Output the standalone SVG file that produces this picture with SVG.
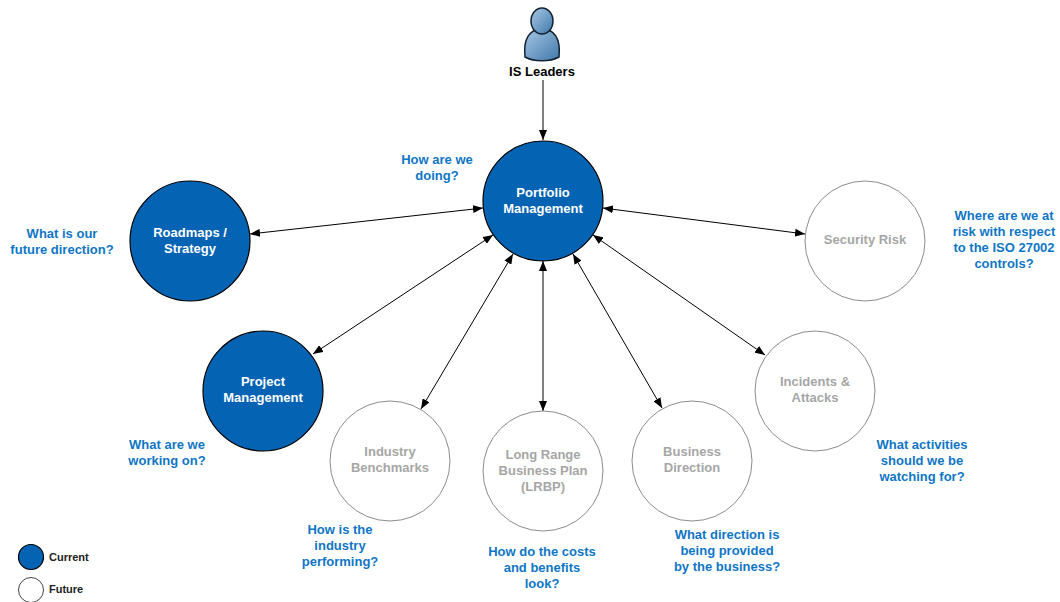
<svg xmlns="http://www.w3.org/2000/svg" width="1060" height="602" viewBox="0 0 1060 602">
<defs>
<marker id="a" viewBox="0 0 10 8" refX="10" refY="4" markerWidth="10" markerHeight="8" orient="auto-start-reverse" markerUnits="userSpaceOnUse"><path d="M0 0L10 4L0 8Z" fill="#000"/></marker>
<linearGradient id="b" x1="0" y1="0" x2="1" y2="1"><stop offset="0" stop-color="#a9c8e4"/><stop offset="1" stop-color="#3f78ab"/></linearGradient>
</defs>
<style>
text{font-family:"Liberation Sans",Arial,sans-serif;font-weight:700;font-size:13px;text-anchor:middle}
.cur{fill:#0563b4;stroke:#000;stroke-width:1.2}
.fut{fill:#fff;stroke:#8c8c8c;stroke-width:1}
.w{fill:#fff}.g{fill:#a6a6a6}.q{fill:#0f76c6}
.c{stroke:#000;stroke-width:1;fill:none;marker-end:url(#a)}
.d{marker-start:url(#a)}
.k{fill:#222;font-size:11px;text-anchor:start}
</style>
<rect width="1060" height="602" fill="#fff"/>
<g id="connectors">
<line class="c" x1="543" y1="80" x2="543" y2="140"/>
<line class="c d" x1="250" y1="234" x2="483" y2="208"/>
<line class="c d" x1="313" y1="354" x2="493" y2="235"/>
<line class="c d" x1="421" y1="409" x2="513" y2="254"/>
<line class="c d" x1="543" y1="411" x2="543" y2="261"/>
<line class="c d" x1="662" y1="408" x2="573" y2="254"/>
<line class="c d" x1="765" y1="355" x2="593" y2="235"/>
<line class="c d" x1="805" y1="234" x2="603" y2="208"/>
</g>
<g id="is-leaders">
<path d="M525 57C523 38 530 29 542 29C554 29 561 38 559 57C550 62 534 62 525 57Z" fill="url(#b)" stroke="#123" stroke-width="1.5"/>
<ellipse cx="542" cy="21" rx="11" ry="13" fill="url(#b)" stroke="#123" stroke-width="1.5"/>
<text x="542" y="76">IS Leaders</text>
</g>
<g id="portfolio"><circle class="cur" cx="543" cy="201" r="60"/><text class="w" x="543" y="197">Portfolio</text><text class="w" x="543" y="213">Management</text></g>
<g id="roadmaps"><circle class="cur" cx="190" cy="241" r="60"/><text class="w" x="190" y="237">Roadmaps /</text><text class="w" x="190" y="253">Strategy</text></g>
<g id="project"><circle class="cur" cx="263" cy="391" r="60"/><text class="w" x="263" y="386">Project</text><text class="w" x="263" y="402">Management</text></g>
<g id="security"><circle class="fut" cx="865" cy="241" r="60"/><text class="g" x="865" y="244">Security Risk</text></g>
<g id="incidents"><circle class="fut" cx="815" cy="391" r="60"/><text class="g" x="815" y="386">Incidents &amp;</text><text class="g" x="815" y="402">Attacks</text></g>
<g id="industry"><circle class="fut" cx="390" cy="461" r="60"/><text class="g" x="390" y="456">Industry</text><text class="g" x="390" y="472">Benchmarks</text></g>
<g id="lrbp"><circle class="fut" cx="543" cy="471" r="60"/><text class="g" x="543" y="459">Long Range</text><text class="g" x="543" y="475">Business Plan</text><text class="g" x="543" y="491">(LRBP)</text></g>
<g id="business"><circle class="fut" cx="692" cy="461" r="60"/><text class="g" x="692" y="456">Business</text><text class="g" x="692" y="472">Direction</text></g>
<g id="questions">
<text class="q" x="437" y="164">How are we</text><text class="q" x="437" y="180">doing?</text>
<text class="q" x="62" y="238">What is our</text><text class="q" x="62" y="254">future direction?</text>
<text class="q" x="1004" y="220">Where are we at</text><text class="q" x="1004" y="236">risk with respect</text><text class="q" x="1004" y="252">to the ISO 27002</text><text class="q" x="1004" y="268">controls?</text>
<text class="q" x="167" y="449">What are we</text><text class="q" x="167" y="465">working on?</text>
<text class="q" x="922" y="449">What activities</text><text class="q" x="922" y="465">should we be</text><text class="q" x="922" y="481">watching for?</text>
<text class="q" x="340" y="534">How is the</text><text class="q" x="340" y="550">industry</text><text class="q" x="340" y="566">performing?</text>
<text class="q" x="542" y="556">How do the costs</text><text class="q" x="542" y="572">and benefits</text><text class="q" x="542" y="588">look?</text>
<text class="q" x="727" y="539">What direction is</text><text class="q" x="727" y="555">being provided</text><text class="q" x="727" y="571">by the business?</text>
</g>
<g id="legend-current"><circle class="cur" cx="31" cy="557" r="12.5"/><text class="k" x="49" y="561">Current</text></g>
<g id="legend-future"><circle cx="31" cy="590" r="12.5" fill="#fff" stroke="#444"/><text class="k" x="49" y="593">Future</text></g>
</svg>
